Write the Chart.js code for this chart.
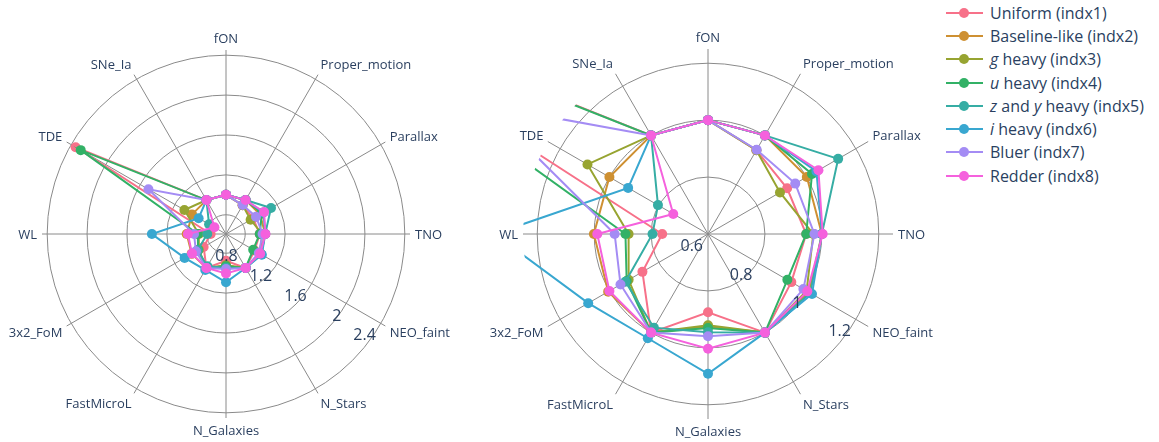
<!DOCTYPE html>
<html>
<head>
<meta charset="utf-8">
<script src="https://cdn.jsdelivr.net/npm/chart.js@4"></script>
<style>
  body { margin: 0; width: 1159px; height: 442px; background: #fff; position: relative; overflow: hidden; font-family: "Open Sans", sans-serif; }
  canvas { position: absolute; top: 0; }
  #left { left: 0; }
  #right { left: 480px; }
  #legend { position: absolute; left: 946px; top: 1px; color: #2a3f5f; font-size: 16px; }
  .item { height: 23.3px; display: flex; align-items: center; white-space: nowrap; }
  .swatch { position: relative; width: 37px; height: 2px; margin-right: 7px; }
  .swatch span { position: absolute; left: 13px; top: -4px; width: 10px; height: 10px; border-radius: 50%; }
</style>
</head>
<body>
<canvas id="left" width="470" height="442"></canvas>
<canvas id="right" width="460" height="442"></canvas>
<div id="legend"></div>
<script>
const axes = ['fON', 'Proper_motion', 'Parallax', 'TNO', 'NEO_faint', 'N_Stars',
  'N_Galaxies', 'FastMicroL', '3x2_FoM', 'WL', 'TDE', 'SNe_Ia'];

// one value per axis, same order as above
const uniform      = [1.0, 0.94, 0.921, 0.945, 0.938, 1.0, 0.875, 1.0, 0.866, 0.761, 2.348, 1.0];
const baselineLike = [1.0, 1.0, 1.001, 1.0, 1.01, 1.0, 0.925, 1.0, 1.005, 1.001, 1.0, 1.0];
const gHeavy       = [1.0, 0.94, 0.892, 0.97, 1.0, 1.0, 0.921, 1.0, 0.922, 0.879, 1.089, 1.0];
const uHeavy       = [1.0, 1.0, 1.022, 0.945, 0.922, 1.0, 0.93, 1.0, 0.93, 0.89, 2.289, 1.0];
const zyHeavy      = [1.0, 1.0, 1.128, 1.0, 1.015, 1.0, 0.945, 0.98, 0.935, 0.795, 0.803, 1.0];
const iHeavy       = [1.0, 1.0, 1.04, 1.0, 1.022, 1.0, 1.091, 1.023, 1.086, 1.35, 0.924, 1.0];
const bluer        = [1.0, 0.942, 0.954, 0.974, 0.987, 1.0, 0.959, 1.0, 0.955, 0.928, 1.505, 1.0];
const redder       = [1.0, 1.0, 1.048, 1.003, 1.003, 1.0, 1.003, 1.0, 1.0, 0.989, 0.741, 1.0];

const series = [uniform, baselineLike, gHeavy, uHeavy, zyHeavy, iHeavy, bluer, redder];
const names = ['Uniform (indx1)', 'Baseline-like (indx2)', '<i>g</i> heavy (indx3)', '<i>u</i> heavy (indx4)',
  '<i>z</i> and <i>y</i> heavy (indx5)', '<i>i</i> heavy (indx6)', 'Bluer (indx7)', 'Redder (indx8)'];
const colors = ['#f77189', '#ce9032', '#97a431', '#32b166', '#36ada4', '#39a7d0', '#a48cf4', '#f561dd'];

const leftTicks = [0.8, 1.2, 1.6, 2, 2.4];
const leftTickText = ['0.8', '1.2', '1.6', '2', '2.4'];
const rightTicks = [0.6, 0.8, 1, 1.2];
const rightTickText = ['0.6', '0.8', '1', '1.2'];

const gridColor = '#8a8a8a';
const textColor = '#2a3f5f';

// plotly clips traces at the edge of the polar area
const circleClip = {
  id: 'circleClip',
  beforeDatasetsDraw(chart) {
    const sc = chart.scales.r;
    chart.ctx.save();
    chart.ctx.beginPath();
    chart.ctx.arc(sc.xCenter, sc.yCenter, sc.drawingArea, 0, Math.PI * 2);
    chart.ctx.clip();
  },
  afterDatasetsDraw(chart) {
    chart.ctx.restore();
  }
};

function polarText(tickVals, tickText) {
  return {
    id: 'polarText',
    afterDraw(chart) {
      const sc = chart.scales.r;
      const ctx = chart.ctx;
      ctx.save();
      ctx.fillStyle = textColor;
      ctx.textBaseline = 'middle';
      ctx.font = '13px "Open Sans"';
      axes.forEach((lab, i) => {
        const p = sc.getPointPosition(i, sc.drawingArea + 5);
        const c = Math.cos(p.angle), s = Math.sin(p.angle);
        ctx.textAlign = Math.abs(c) < 0.01 ? 'center' : (c > 0 ? 'left' : 'right');
        ctx.fillText(lab, p.x, p.y + s * 7 + 1);
      });
      // radial tick labels run along the NEO_faint spoke
      ctx.font = '16px "Open Sans"';
      ctx.textAlign = 'right';
      tickVals.forEach((v, i) => {
        const p = sc.getPointPositionForValue(4, v);
        ctx.fillText(tickText[i], p.x - 5, p.y + 12.5);
      });
      ctx.restore();
    }
  };
}

function makeRadar(id, lo, hi, tickVals, tickText, pad) {
  const gridTicks = [lo].concat(tickVals.filter(v => v > lo));
  return new Chart(document.getElementById(id), {
    type: 'radar',
    data: {
      labels: axes,
      datasets: series.map((d, i) => ({
        label: names[i],
        data: d,
        borderColor: colors[i],
        backgroundColor: colors[i],
        pointBackgroundColor: colors[i],
        pointBorderWidth: 0,
        pointRadius: 5,
        borderWidth: 2,
        fill: false,
        tension: 0,
        order: series.length - i
      }))
    },
    options: {
      responsive: false,
      animation: false,
      layout: { padding: pad },
      plugins: { legend: { display: false }, tooltip: { enabled: false } },
      scales: {
        r: {
          min: lo,
          max: hi,
          angleLines: { color: gridColor, lineWidth: 1 },
          grid: { circular: true, color: gridColor, lineWidth: 1 },
          pointLabels: { display: false },
          ticks: { display: false },
          afterBuildTicks: sc => { sc.ticks = gridTicks.map(v => ({ value: v })); }
        }
      }
    },
    plugins: [circleClip, polarText(tickVals, tickText)]
  });
}

makeRadar('left', 0.607, 2.452, leftTicks, leftTickText, { left: 42, top: 50, right: 59, bottom: 23 });
makeRadar('right', 0.6, 1.25, rightTicks, rightTickText, { left: 43, top: 49, right: 47, bottom: 23 });

const legend = document.getElementById('legend');
names.forEach((n, i) => {
  const row = document.createElement('div');
  row.className = 'item';
  row.innerHTML = '<div class="swatch" style="background:' + colors[i] + '"><span style="background:' + colors[i] + '"></span></div><div>' + n + '</div>';
  legend.appendChild(row);
});
</script>
</body>
</html>
